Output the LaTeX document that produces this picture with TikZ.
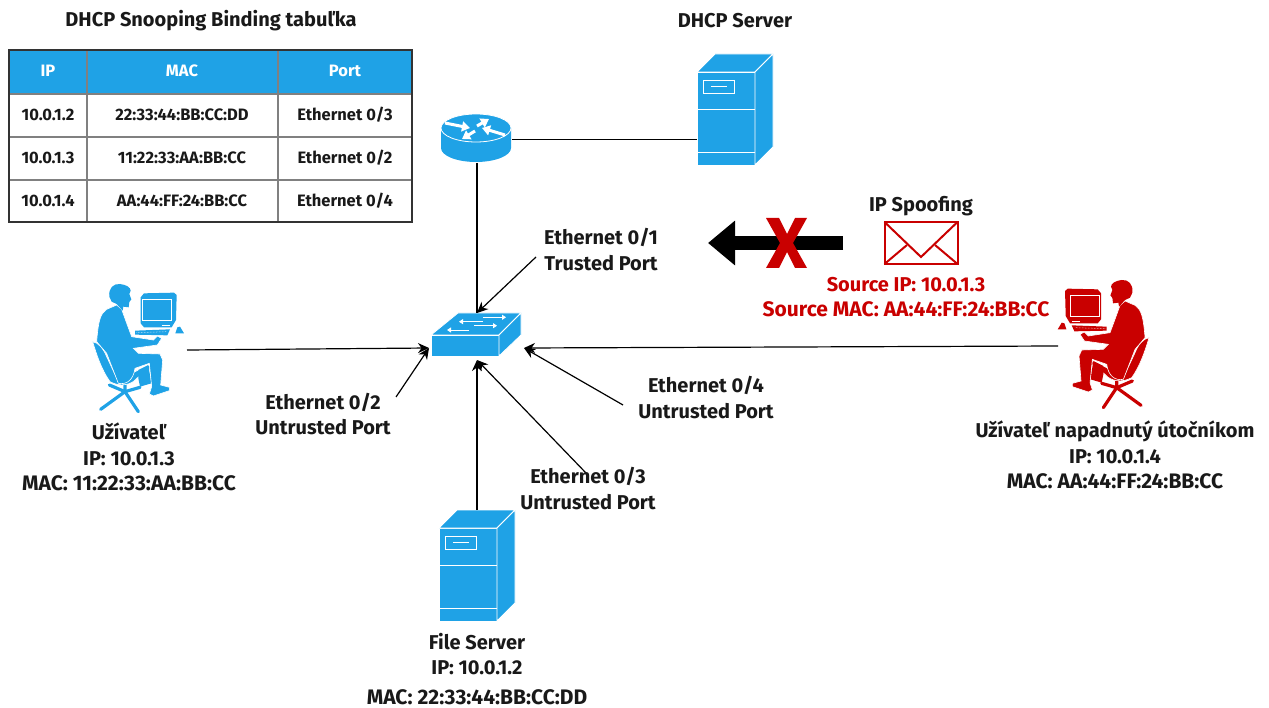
\documentclass[tikz,border=0pt]{standalone}
\usepackage{fontspec}
\setmainfont{Fira Sans}
\usetikzlibrary{positioning}
\usetikzlibrary{arrows.meta}
\usetikzlibrary{calc}

\definecolor{devblue}{HTML}{1FA2E6}
\definecolor{attackred}{HTML}{C90000}
\newcommand{\macline}[1]{{\fontsize{21}{25.5}\selectfont #1}}

\tikzset{
    server/.pic={
        \fill[devblue, draw=white, line width=.8pt] (0,0) rectangle (58,93);
        \fill[devblue, draw=white, line width=.8pt] (0,0) -- (18,-18) -- (76,-18) -- (58,0) -- cycle;
        \fill[devblue, draw=white, line width=.8pt] (58,0) -- (76,-18) -- (76,75) -- (58,93) -- cycle;
        \draw[white, line width=.8pt] (0,37) -- (58,37);
        \draw[white, line width=.8pt] (0,80) -- (58,80);
        \draw[white, line width=.8pt] (6,8) rectangle (37,21);
        \draw[white, line width=.8pt] (14,14.5) -- (30,14.5);
    },
    router/.pic={
        \fill[devblue] (-35,0) -- (-35,20) arc[start angle=180, end angle=360, x radius=35, y radius=-14] -- (35,0) -- cycle;
        \fill[devblue, draw=white, line width=.8pt] (0,0) ellipse[x radius=35, y radius=14];
        \draw[white, line width=3pt, -{Triangle[length=8pt,width=10pt]}] (-31,-5) -- (-6,0);
        \draw[white, line width=3pt, -{Triangle[length=8pt,width=10pt]}] (1,-2) -- (13,-9);
        \draw[white, line width=3pt, -{Triangle[length=8pt,width=10pt]}] (29,7) -- (6,0);
        \draw[white, line width=3pt, -{Triangle[length=8pt,width=10pt]}] (-1,3) -- (-14,11);
    },
    switch/.pic={
        \fill[devblue, draw=white, line width=.8pt] (0,0) rectangle (68,21);
        \fill[devblue, draw=white, line width=.8pt] (0,0) -- (27,-22) -- (90,-22) -- (68,0) -- cycle;
        \fill[devblue, draw=white, line width=.8pt] (68,0) -- (90,-22) -- (90,0) -- (68,21) -- cycle;
        \draw[white, line width=.9pt, -{Triangle[length=4pt,width=5pt]}] (52,-17.7) -- (75,-17.7);
        \draw[white, line width=.9pt, -{Triangle[length=4pt,width=5pt]}] (52,-13.3) -- (28,-13.3);
        \draw[white, line width=.9pt, -{Triangle[length=4pt,width=5pt]}] (43,-9.3) -- (66,-9.3);
        \draw[white, line width=.9pt, -{Triangle[length=4pt,width=5pt]}] (38,-5) -- (16,-5);
    },
    user/.pic={
        % Chair base
        \draw[line width=3.2pt, line cap=round] (165,345) -- (165,365) -- (92,418);
        \draw[line width=3.2pt, line cap=round] (165,365) -- (118,345);
        \draw[line width=3.2pt, line cap=round] (165,365) -- (205,425);
        \draw[line width=3.2pt, line cap=round] (165,365) -- (210,352);
        % Chair
        \fill[draw=white, line width=.6pt] (68,215) .. controls (85,218) and (100,235) .. (110,260)
            -- (145,335) -- (195,305) -- (238,285) -- (240,295) -- (200,325)
            .. controls (185,345) and (150,352) .. (120,335) .. controls (95,300) and (80,255) .. cycle;
        % Lower leg at the back
        \fill (205,300) -- (235,285) -- (244,340) -- (210,350) -- (205,325) -- cycle;
        % Body
        \fill[draw=white, line width=.6pt] (140,105) -- (110,118) .. controls (92,130) and (85,150) .. (80,215)
            -- (110,250) -- (145,340) .. controls (170,345) and (190,330) .. (195,295)
            -- (238,280) -- (245,350) -- (238,372) -- (250,378) -- (298,362) -- (298,352) -- (272,345)
            -- (278,270) -- (270,252) -- (205,250) -- (190,235) -- (262,225) -- (275,205) -- (262,198) -- (250,210)
            -- (185,200) -- (172,165) -- (155,118) -- cycle;
        % Head
        \fill (118,80) .. controls (115,55) and (130,40) .. (150,42) .. controls (168,44) and (182,52) .. (182,62)
            -- (178,72) -- (184,88) -- (178,96) -- (176,112) -- (160,110) -- (158,122) -- (140,102) -- (125,95) -- cycle;
        % Monitor
        \fill (212,82) -- (222,70) -- (312,68) -- (320,75) -- (318,150) -- (305,172) -- (222,172) -- (212,160) -- cycle;
        \draw[white, line width=.8pt] (218,88) rectangle (303,152);
        \draw[white, line width=.6pt] (275,165) -- (300,165);
        % Keyboard and mouse
        \fill (195,182) -- (300,178) -- (292,196) -- (195,194) -- cycle;
        \draw[white, line width=.5pt, densely dotted] (200,188) -- (290,185);
        \fill (322,172) -- (330,170) -- (342,190) -- (316,190) -- cycle;
    }
}

\begin{document}
\begin{tikzpicture}[
    x=1pt, y=-1pt,
    every node/.style={font=\fontsize{20}{25.5}\selectfont\bfseries, text=black!90, align=center},
    tablecell/.style={font=\fontsize{16.5}{18}\selectfont\bfseries},
    tablehead/.style={font=\fontsize{16.5}{18}\selectfont\bfseries, text=white},
    redlabel/.style={text=attackred},
    iconbox/.style={inner sep=0pt, outer sep=0pt},
    link/.style={line width=1.2pt},
    portarrow/.style={line width=1.2pt, -{Stealth[length=11pt,width=10pt,inset=3.5pt]}}
]
    \useasboundingbox (0,0) rectangle (1269,708);

    % Binding table
    \node[] (TableTitle) at (211,21) {DHCP Snooping Binding tabuľka};
    \coordinate (H1) at (9,50);
    \fill[devblue] (H1) rectangle ($(H1)+(403,44)$);
    \draw[gray, line width=1.2pt] ($(H1)+(0,44)$) -- ($(H1)+(403,44)$);
    \draw[gray, line width=1.2pt] ($(H1)+(0,87)$) -- ($(H1)+(403,87)$);
    \draw[gray, line width=1.2pt] ($(H1)+(0,130)$) -- ($(H1)+(403,130)$);
    \draw[gray, line width=1.2pt] ($(H1)+(78,0)$) -- ($(H1)+(78,172)$);
    \draw[gray, line width=1.2pt] ($(H1)+(269,0)$) -- ($(H1)+(269,172)$);
    \draw[black!80, line width=1.6pt] (H1) rectangle ($(H1)+(403,172)$);

    \node[tablehead] (HeadIP) at ($(H1)+(39,21)$) {IP};
    \node[tablehead] (HeadMAC) at ($(H1)+(173,21)$) {MAC};
    \node[tablehead] (HeadPort) at ($(H1)+(336,21)$) {Port};

    \node[tablecell] (IP2) at ($(H1)+(39,65)$) {10.0.1.2};
    \node[tablecell] (MAC2) at ($(H1)+(173,65)$) {22:33:44:BB:CC:DD};
    \node[tablecell] (Port3) at ($(H1)+(336,65)$) {Ethernet 0/3};

    \node[tablecell] (IP3) at ($(H1)+(39,108)$) {10.0.1.3};
    \node[tablecell] (MAC3) at ($(H1)+(173,108)$) {11:22:33:AA:BB:CC};
    \node[tablecell] (Port2) at ($(H1)+(336,108)$) {Ethernet 0/2};

    \node[tablecell] (IP4) at ($(H1)+(39,151)$) {10.0.1.4};
    \node[tablecell] (MAC4) at ($(H1)+(173,151)$) {AA:44:FF:24:BB:CC};
    \node[tablecell] (Port4) at ($(H1)+(336,151)$) {Ethernet 0/4};

    % Devices
    \node[iconbox, minimum width=70pt, minimum height=47pt] (Router) at (477,139.5) {};
    \node[iconbox, minimum width=76pt, minimum height=111pt] (DHCP) at (735,109.5) {};
    \node[iconbox, minimum width=90pt, minimum height=43pt] (Switch) at (477,334.5) {};
    \node[iconbox, minimum width=76pt, minimum height=111pt] (FileSrv) at (477,565.5) {};
    \node[iconbox, minimum width=95pt, minimum height=130pt] (User) at (139.5,350) {};
    \node[iconbox, minimum width=90pt, minimum height=130pt] (Attacker) at (1103,346) {};

    \pic at (476,128) {router};
    \pic at (697,72) {server};
    \pic at (431,335) {switch};
    \pic at (439,528) {server};
    \pic[color=devblue, scale=1/3] at (70,270) {user};
    \pic[color=attackred, xscale=-1/3, yscale=1/3] at (1171.7,266) {user};

    % Device labels
    \node[] (DHCPLabel) at (735,21) {DHCP Server};
    \node[] (UserLabel) at (129,457) {Užívateľ\\IP: 10.0.1.3\\\macline{MAC: 11:22:33:AA:BB:CC}};
    \node[] (AttackerLabel) at (1115,455) {Užívateľ napadnutý útočníkom\\IP: 10.0.1.4\\\macline{MAC: AA:44:FF:24:BB:CC}};
    \node[] (FileLabel) at (477,654) {File Server\\IP: 10.0.1.2};
    \node[] (FileMac) at (477,697) {\macline{MAC: 22:33:44:BB:CC:DD}};

    % Links
    \draw[link] (Router.east) -- (Router.east -| DHCP.west);
    \draw[link] (Router.south) -- (Switch.north);

    \coordinate (SwLeft) at (429,348);
    \coordinate (SwRight) at (524,348);
    \coordinate (SwBottom) at (477,360);
    \draw[portarrow] (User.east) -- (SwLeft);
    \draw[portarrow] (Attacker.west) -- (SwRight);
    \draw[portarrow] (FileSrv.north) -- (SwBottom);

    % Port arrows
    \coordinate (Eth1Start) at (536,257);
    \coordinate (Eth2Start) at (396,397);
    \coordinate (Eth3Start) at (586,473);
    \coordinate (Eth4Start) at (623,405);
    \draw[portarrow] (Eth1Start) -- (Switch.north);
    \draw[portarrow] (Eth2Start) -- (SwLeft);
    \draw[portarrow] (Eth3Start) -- (SwBottom);
    \draw[portarrow] (Eth4Start) -- (SwRight);

    % Port labels
    \node[] (Eth1) at (601,249.5) {Ethernet 0/1\\Trusted Port};
    \node[] (Eth2) at (323,414) {Ethernet 0/2\\Untrusted Port};
    \node[] (Eth3) at (588,488.5) {Ethernet 0/3\\Untrusted Port};
    \node[] (Eth4) at (706,397.5) {Ethernet 0/4\\Untrusted Port};

    % Spoofed frame
    \node[] (Spoof) at (921,206) {IP Spoofing};
    \node[iconbox, draw=attackred, line width=2pt, minimum width=73pt, minimum height=42pt] (Mail) at (921,243) {};
    \draw[attackred, line width=2pt] (Mail.north west) -- (921,257) -- (Mail.north east);
    \draw[attackred, line width=2pt] (Mail.south west) -- (907,245);
    \draw[attackred, line width=2pt] (Mail.south east) -- (935,245);
    \node[redlabel] (SourceInfo) at (906,297) {Source IP: 10.0.1.3\\\macline{Source MAC: AA:44:FF:24:BB:CC}};

    \coordinate (BlockStart) at (843,243);
    \coordinate (BlockEnd) at (708,243);
    \draw[line width=14pt, -{Triangle[length=27pt,width=43pt]}] (BlockStart) -- (BlockEnd);
    \fill[attackred] (766,218) -- (779,218) -- (787,234) -- (795,218) -- (807,218) -- (793,243)
        -- (807,268) -- (795,268) -- (787,252) -- (779,268) -- (766,268) -- (780,243) -- cycle;
\end{tikzpicture}
\end{document}
